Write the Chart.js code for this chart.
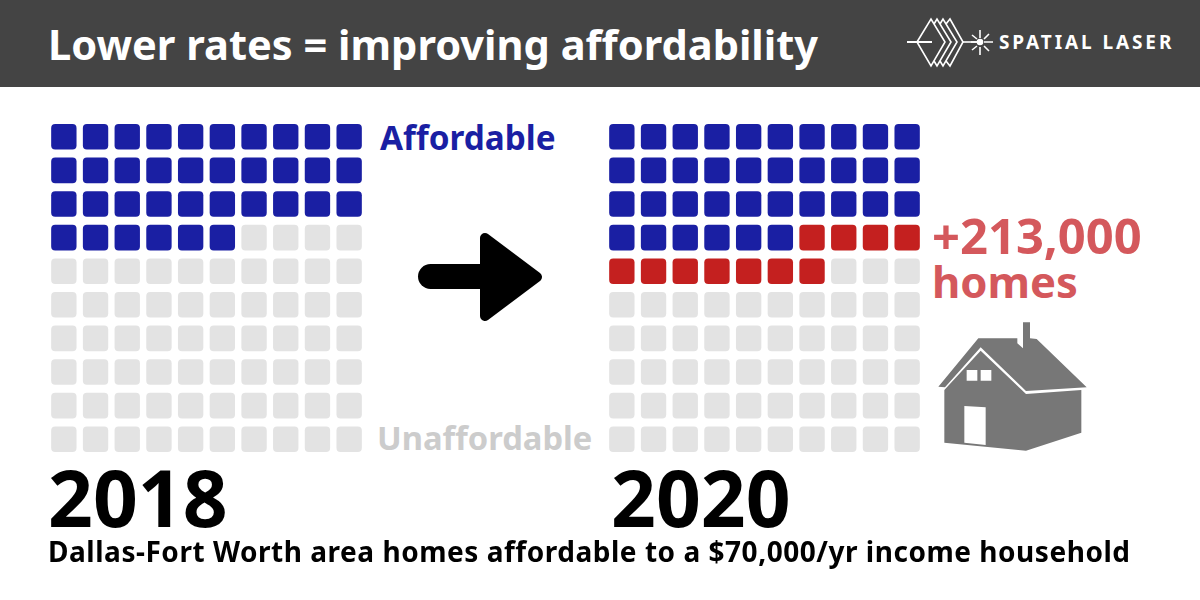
<!DOCTYPE html>
<html>
<head>
<meta charset="utf-8">
<title>Lower rates = improving affordability</title>
<script src="https://cdn.jsdelivr.net/npm/chart.js@4"></script>
<style>
html, body { margin: 0; padding: 0; background: #fff; }
#page { position: relative; width: 1200px; height: 600px; overflow: hidden; font-family: "Noto Sans", sans-serif; font-weight: 700; }
#header { position: absolute; left: 0; top: 0; width: 1200px; height: 87px; background: #444; }
.txt { position: absolute; white-space: nowrap; line-height: 1; }
canvas { position: absolute; }
svg { position: absolute; }
</style>
</head>
<body>
<div id="page">
    <div id="header"></div>
    <div class="txt" id="title" style="left:48px;top:24px;font-size:41.6px;color:#fff">Lower rates = improving affordability</div>
    <div class="txt" id="brand" style="left:999px;top:33px;font-size:19px;letter-spacing:2.9px;color:#fff">SPATIAL LASER</div>

    <svg style="left:900px;top:0" width="100" height="87" viewBox="900 0 100 87" fill="none" stroke="#fff" stroke-width="1.6">
        <path d="M907 42H932" stroke-width="2"/>
        <path d="M917 42L931 19L945 42L931 66L917 42"/>
        <path d="M934 24L937 19L951 42L937 66L934 61"/>
        <path d="M940 24L943 19L957 42L943 66L940 61"/>
        <path d="M946 24L950 19L963 42L950 66L946 61"/>
        <path d="M963 42H980"/>
        <circle cx="980" cy="42" r="2.500" fill="#fff"/>
        <path d="M980 30V38M980 47V55M971 42H977M984 42H993M972 35L977 39M984 39L989 34M972 50L977 46M984 46L989 51"/>
    </svg>

    <canvas id="chart2018" width="317" height="336" style="left:48px;top:120px"></canvas>
    <canvas id="chart2020" width="317" height="336" style="left:606px;top:120px"></canvas>

    <div class="txt" id="affordable" style="left:380px;top:121px;font-size:33.300px;color:#1a1fa3">Affordable</div>
    <div class="txt" id="unaffordable" style="left:377px;top:422px;font-size:32.700px;color:#ccc">Unaffordable</div>

    <svg style="left:410px;top:225px" width="140" height="105" viewBox="410 225 140 105">
        <path d="M430.500 276.500H485" stroke="#000" stroke-width="25" stroke-linecap="round"/>
        <path d="M485 238L537 277L485 316Z" fill="#000" stroke="#000" stroke-width="10" stroke-linejoin="round"/>
    </svg>

    <div class="txt" id="homes1" style="left:932px;top:211px;font-size:48.900px;color:#d4585c">+213,000</div>
    <div class="txt" id="homes2" style="left:932px;top:260px;font-size:43.600px;color:#d4585c">homes</div>

    <svg style="left:920px;top:310px" width="180" height="150" viewBox="0 0 540 450">
        <path fill="#777" d="M55 230L175 85L292 85L292 100L309 115L309 37L330 37L330 85L350 87L500 232L318 243L182 112L75 232Z"/>
        <path fill="#777" d="M73 240L182 122L318 252L484 240L484 368L318 422L73 398Z"/>
        <path fill="#fff" d="M140 180H172V212H140ZM182 180H214V212H182ZM133 288L197 292L197 405L133 398Z"/>
    </svg>

    <div class="txt" id="y2018" style="left:48px;top:458px;font-size:78.500px;color:#000">2018</div>
    <div class="txt" id="y2020" style="left:611px;top:458px;font-size:78.500px;color:#000">2020</div>
    <div class="txt" id="caption" style="left:48px;top:537px;font-size:28px;letter-spacing:0.53px;color:#000">Dallas-Fort Worth area homes affordable to a $70,000/yr income household</div>
</div>

<script>
"use strict"

// cells per row of the 10x10 waffle, top row first
const columns = [1, 2, 3, 4, 5, 6, 7, 8, 9, 10];
const affordable2018 = [10, 10, 10, 6, 0, 0, 0, 0, 0, 0];
const affordable2020 = [10, 10, 10, 6, 0, 0, 0, 0, 0, 0];
const added2018 = [0, 0, 0, 0, 0, 0, 0, 0, 0, 0];
const added2020 = [0, 0, 0, 4, 7, 0, 0, 0, 0, 0];

const BLUE = '#1a1fa3';
const RED = '#c4201f';
const GREY = '#e3e3e3';

function drawWaffle(id, affordable, added) {
    const datasets = affordable.map((blue, row) => ({
        data: columns.map(() => [row + 0.119, row + 0.881]),
        backgroundColor: columns.map((c, i) => {
            if (i < blue) return BLUE;
            if (i < blue + added[row]) return RED;
            return GREY;
        }),
        borderRadius: 4,
        borderSkipped: false,
        barPercentage: 0.8,
        categoryPercentage: 1,
        grouped: false
    }));

    new Chart(document.getElementById(id), {
        type: 'bar',
        data: { labels: columns, datasets: datasets },
        options: {
            responsive: false,
            animation: false,
            devicePixelRatio: 1,
            layout: { padding: 0 },
            plugins: { legend: { display: false }, tooltip: { enabled: false } },
            scales: {
                x: { display: false, offset: true },
                y: { display: false, min: 0, max: 10, reverse: true }
            }
        }
    });
}

drawWaffle('chart2018', affordable2018, added2018);
drawWaffle('chart2020', affordable2020, added2020);
</script>
</body>
</html>
